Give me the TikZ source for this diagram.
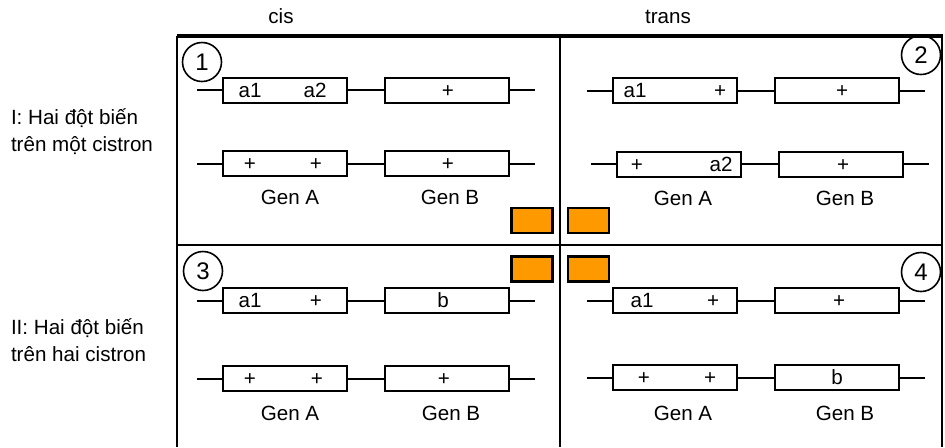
\documentclass[tikz,border=0pt]{standalone}
\usepackage{fontspec}
\setmainfont{Liberation Sans}
\definecolor{patchOrange}{HTML}{FF9900}
\usetikzlibrary{positioning, calc}

\begin{document}
\begin{tikzpicture}[
  x=0.5pt, y=-0.5pt,
  node distance=18pt,
  line width=1pt,
  gene/.style={draw, minimum width=62pt, minimum height=12.5pt, inner sep=0pt},
  allele/.style={font=\fontsize{10.3}{13.5}\selectfont, text height=7.4pt,
    text depth=0pt, inner sep=0pt},
  side/.style={font=\fontsize{10.3}{13.5}\selectfont, align=left, anchor=west,
    inner sep=0pt},
  num/.style={circle, draw, line width=0.8pt, minimum size=19.5pt, inner sep=0pt,
    font=\fontsize{12}{14}\selectfont},
  patch/.style={draw, line width=1.2pt, fill=patchOrange, minimum width=20.5pt,
    minimum height=12.5pt, inner sep=0pt}]

  \useasboundingbox (0,0) rectangle (945,447);

  % frame
  \draw (177,447) -- (177,36) (942,36) -- (942,447);
  \draw[line width=1.6pt] (176.5,36) -- (942.5,36);
  \draw (560,36) -- (560,447);
  \draw (177,245) -- (942,245);

  \node[allele] (cis) at (281,16) {cis};
  \node[allele] (trans) at (668,16) {trans};
  \node[side] (one) at (10,132) {I: Hai đột biến\\trên một cistron};
  \node[side] (two) at (10,340) {II: Hai đột biến\\trên hai cistron};

  % 1: cis, one cistron
  \node[num] (n1) at (202,62) {1};
  \node[gene] (r11A) at (285,90) {};
  \node[gene, right=of r11A] (r11B) {};
  \coordinate[left=12.5pt of r11A] (r11l);
  \coordinate[right=12.5pt of r11B] (r11r);
  \draw (r11l) -- (r11A) (r11A) -- (r11B) (r11B) -- (r11r);
  \node[allele] (t11a) at ($(r11A)+(-35,0)$) {a1};
  \node[allele] (t11b) at ($(r11A)+(30,0)$) {a2};
  \node[allele] (t11c) at ($(r11B)+(1,0)$) {+};

  \node[gene] (r12A) at (285,163.5) {};
  \node[gene, right=of r12A] (r12B) {};
  \coordinate[left=12.5pt of r12A] (r12l);
  \coordinate[right=12.5pt of r12B] (r12r);
  \draw (r12l) -- (r12A) (r12A) -- (r12B) (r12B) -- (r12r);
  \node[allele] (t12a) at ($(r12A)+(-35,0)$) {+};
  \node[allele] (t12b) at ($(r12A)+(31,0)$) {+};
  \node[allele] (t12c) at ($(r12B)+(1,0)$) {+};

  \node[allele] (g1A) at (290,197) {Gen A};
  \node[allele] (g1B) at (450,197) {Gen B};

  % 2: trans, one cistron
  \node[num] (n2) at (921,55) {2};
  \node[gene] (r21A) at (675,90.5) {};
  \node[gene, right=of r21A] (r21B) {};
  \coordinate[left=12.5pt of r21A] (r21l);
  \coordinate[right=12.5pt of r21B] (r21r);
  \draw (r21l) -- (r21A) (r21A) -- (r21B) (r21B) -- (r21r);
  \node[allele] (t21a) at ($(r21A)+(-40,0)$) {a1};
  \node[allele] (t21b) at ($(r21A)+(45,0)$) {+};
  \node[allele] (t21c) at ($(r21B)+(5,0)$) {+};

  \node[gene] (r22A) at (679,164) {};
  \node[gene, right=of r22A] (r22B) {};
  \coordinate[left=12.5pt of r22A] (r22l);
  \coordinate[right=12.5pt of r22B] (r22r);
  \draw (r22l) -- (r22A) (r22A) -- (r22B) (r22B) -- (r22r);
  \node[allele] (t22a) at ($(r22A)+(-42,0)$) {+};
  \node[allele] (t22b) at ($(r22A)+(42,0)$) {a2};
  \node[allele] (t22c) at ($(r22B)+(2,0)$) {+};

  \node[allele] (g2A) at (683,198) {Gen A};
  \node[allele] (g2B) at (845,198) {Gen B};

  % 3: cis, two cistrons
  \node[num] (n3) at (203,271) {3};
  \node[gene] (r31A) at (285,300.5) {};
  \node[gene, right=of r31A] (r31B) {};
  \coordinate[left=12.5pt of r31A] (r31l);
  \coordinate[right=12.5pt of r31B] (r31r);
  \draw (r31l) -- (r31A) (r31A) -- (r31B) (r31B) -- (r31r);
  \node[allele] (t31a) at ($(r31A)+(-35,0)$) {a1};
  \node[allele] (t31b) at ($(r31A)+(31,0)$) {+};
  \node[allele] (t31c) at ($(r31B)+(-4,0)$) {b};

  \node[gene] (r32A) at (285,378.5) {};
  \node[gene, right=of r32A] (r32B) {};
  \coordinate[left=12.5pt of r32A] (r32l);
  \coordinate[right=12.5pt of r32B] (r32r);
  \draw (r32l) -- (r32A) (r32A) -- (r32B) (r32B) -- (r32r);
  \node[allele] (t32a) at ($(r32A)+(-35,0)$) {+};
  \node[allele] (t32b) at ($(r32A)+(32,0)$) {+};
  \node[allele] (t32c) at ($(r32B)+(-3,0)$) {+};

  \node[allele] (g3A) at (290,413) {Gen A};
  \node[allele] (g3B) at (451,413) {Gen B};

  % 4: trans, two cistrons
  \node[num] (n4) at (921,272) {4};
  \node[gene] (r41A) at (675,300.5) {};
  \node[gene, right=of r41A] (r41B) {};
  \coordinate[left=12.5pt of r41A] (r41l);
  \coordinate[right=12.5pt of r41B] (r41r);
  \draw (r41l) -- (r41A) (r41A) -- (r41B) (r41B) -- (r41r);
  \node[allele] (t41a) at ($(r41A)+(-33,0)$) {a1};
  \node[allele] (t41b) at ($(r41A)+(38,0)$) {+};
  \node[allele] (t41c) at ($(r41B)+(2,0)$) {+};

  \node[gene] (r42A) at (675,377.5) {};
  \node[gene, right=of r42A] (r42B) {};
  \coordinate[left=12.5pt of r42A] (r42l);
  \coordinate[right=12.5pt of r42B] (r42r);
  \draw (r42l) -- (r42A) (r42A) -- (r42B) (r42B) -- (r42r);
  \node[allele] (t42a) at ($(r42A)+(-31,0)$) {+};
  \node[allele] (t42b) at ($(r42A)+(35,0)$) {+};
  \node[allele] (t42c) at (r42B) {b};

  \node[allele] (g4A) at (683,413) {Gen A};
  \node[allele] (g4B) at (845,413) {Gen B};

  % orange patches round the centre
  \node[patch] (o1) at (532,220.5) {};
  \node[patch] (o2) at (588.5,220.5) {};
  \node[patch] (o3) at (532,269) {};
  \node[patch] (o4) at (588.5,269) {};
\end{tikzpicture}
\end{document}
